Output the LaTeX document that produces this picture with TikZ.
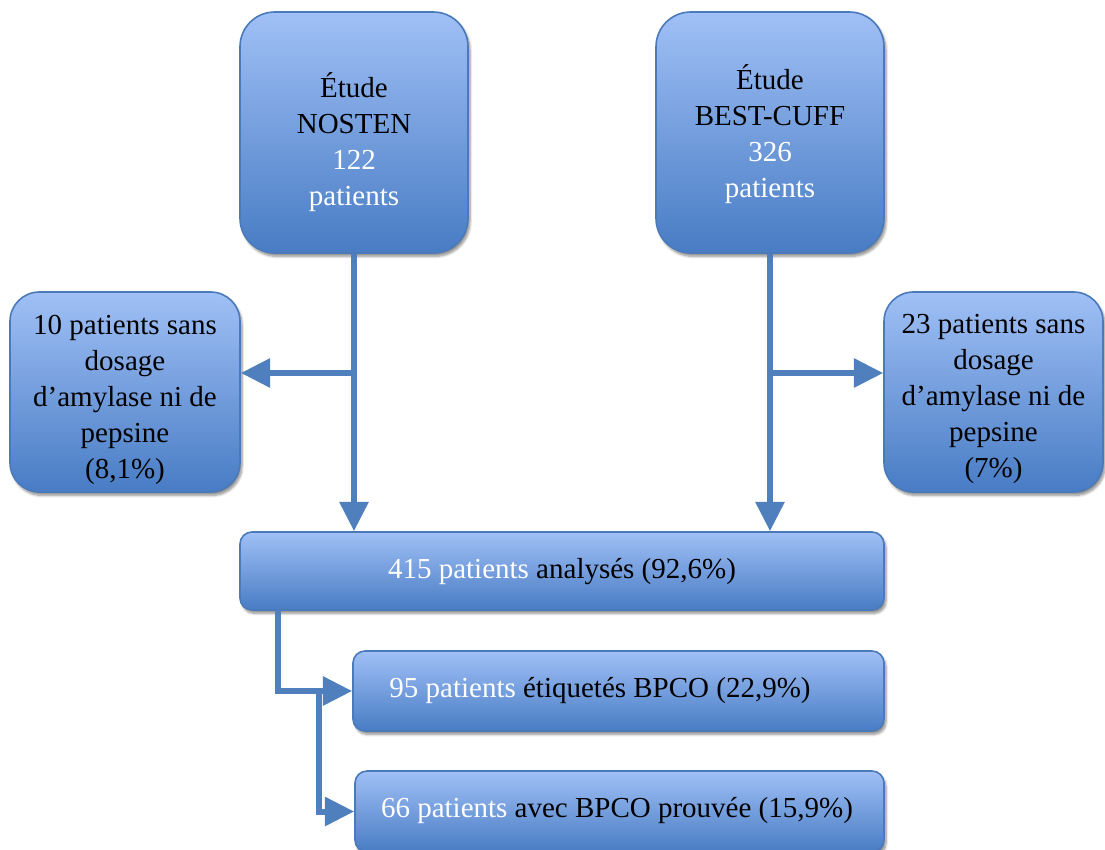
\documentclass[tikz,border=0pt]{standalone}
\usepackage{fontspec}
\setmainfont{Liberation Serif}
\usetikzlibrary{arrows.meta,shadows.blur}
\definecolor{boxtop}{RGB}{160,192,246}
\definecolor{boxbot}{RGB}{72,124,196}
\definecolor{boxedge}{RGB}{74,122,186}
\definecolor{arrowc}{RGB}{79,128,189}
\begin{document}
\begin{tikzpicture}[x=0.75pt,y=-0.75pt,
  box/.style={draw=boxedge, line width=1.2pt, top color=boxtop, bottom color=boxbot,
    blur shadow={shadow xshift=1.5pt, shadow yshift=-2.5pt, shadow opacity=45, shadow blur steps=6},
    inner sep=0pt},
  bigbox/.style={box, minimum width=171pt, minimum height=180.75pt, rounded corners=26pt},
  sidebox/.style={box, minimum height=150pt, rounded corners=22pt},
  widebox/.style={box, rounded corners=9pt},
  txt/.style={align=center, font=\fontsize{21.75pt}{27pt}\selectfont, inner sep=0pt},
  arr/.style={draw=arrowc, line width=4.5pt, -{Triangle[length=22pt,width=21pt]}}
]
\useasboundingbox (0,0) rectangle (1105,849);

% boxes
\node[bigbox] (nosten) at (354,132.5) {};
\node[bigbox] (best) at (770,132.5) {};
\node[sidebox, minimum width=172.5pt] (left) at (125,392) {};
\node[sidebox, minimum width=164.25pt] (right) at (993.5,392) {};
\node[widebox, minimum width=483pt, minimum height=58.5pt] (anal) at (562,571) {};
\node[widebox, minimum width=398.25pt, minimum height=60pt] (bpco) at (618.5,691) {};
\node[widebox, minimum width=396.75pt, minimum height=60.75pt] (prouv) at (619.5,811.5) {};

% texts
\node[txt] (nostent) at (354,142) {Étude\\NOSTEN\\\textcolor{white}{122}\\\textcolor{white}{patients}};
\node[txt] (bestt) at (770,134) {Étude\\BEST-CUFF\\\textcolor{white}{326}\\\textcolor{white}{patients}};
\node[txt] (leftt) at (125,400) {10 patients sans\\dosage\\d’amylase ni de\\pepsine\\(8,1\%)};
\node[txt] (rightt) at (993.5,399) {23 patients sans\\dosage\\d’amylase ni de\\pepsine\\(7\%)};
\node[txt] (analt) at (562,572) {\textcolor{white}{415 patients} analysés (92,6\%)};
\node[txt] (bpcot) at (600,690) {\textcolor{white}{95 patients} étiquetés BPCO (22,9\%)};
\node[txt] (prouvt) at (617,810) {\textcolor{white}{66 patients} avec BPCO prouvée (15,9\%)};

% connectors
\draw[arr] (nosten.south) -- (nosten.south |- anal.north);
\draw[arr] (best.south) -- (best.south |- anal.north);
\coordinate (bl) at (354,373);
\coordinate (br) at (770,373);
\draw[arr] (bl) -- (bl -| left.east);
\draw[arr] (br) -- (br -| right.west);
\coordinate (c1) at (278,610);
\coordinate (c2) at (319,691);
\draw[arr] (c1) |- (bpco.west);
\draw[arr] (c2) |- (prouv.west);
\end{tikzpicture}
\end{document}
